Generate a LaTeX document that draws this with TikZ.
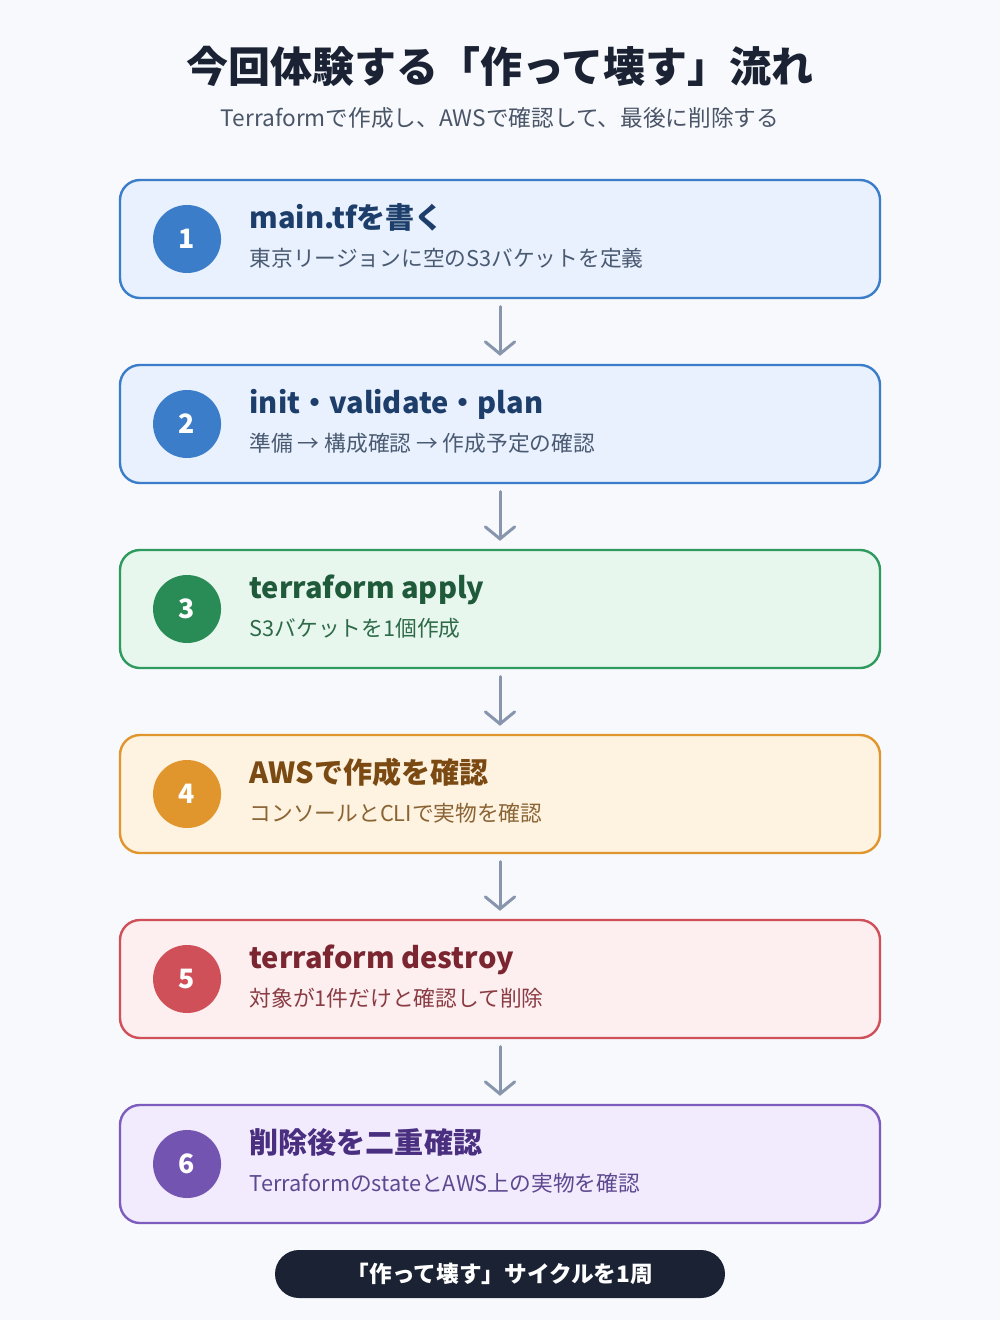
\documentclass[tikz,border=0pt]{standalone}
\usepackage{fontspec}
\setmainfont{Noto Sans CJK JP}
\usetikzlibrary{positioning}
\usetikzlibrary{calc}
\usetikzlibrary{arrows.meta}

\definecolor{bgcol}{HTML}{F7F9FC}
\definecolor{inkcol}{HTML}{1A2233}
\definecolor{greycol}{HTML}{4A5568}
\definecolor{arrowcol}{HTML}{8795AD}
\definecolor{bluedraw}{HTML}{3B7DC8}
\definecolor{bluefill}{HTML}{E8F1FD}
\definecolor{bluedark}{HTML}{1D3D6B}
\definecolor{bluetext}{HTML}{4A5A72}
\definecolor{greendraw}{HTML}{2E9A5E}
\definecolor{greenfill}{HTML}{E8F7EE}
\definecolor{greendark}{HTML}{1F5A3A}
\definecolor{greentext}{HTML}{2E6A48}
\definecolor{orangedraw}{HTML}{E0952D}
\definecolor{orangefill}{HTML}{FEF2E0}
\definecolor{orangedark}{HTML}{7A4A12}
\definecolor{orangetext}{HTML}{8A6434}
\definecolor{reddraw}{HTML}{D0505A}
\definecolor{redfill}{HTML}{FDEFEF}
\definecolor{reddark}{HTML}{7A2530}
\definecolor{redtext}{HTML}{8A3C44}
\definecolor{purpledraw}{HTML}{7D5CC0}
\definecolor{purplefill}{HTML}{F1EBFD}
\definecolor{purpledark}{HTML}{4A2F80}
\definecolor{purpletext}{HTML}{5E4890}

\begin{document}
\begin{tikzpicture}[stepbox/.style={rectangle, draw, line width=1.8pt, rounded corners=15pt, minimum width=570pt, minimum height=88.5pt},
  numdot/.style={circle, minimum size=51pt, inner sep=0pt, text=white, font=\fontsize{20}{20}\selectfont\bfseries},
  headtxt/.style={anchor=base west, inner sep=0pt, font=\fontsize{21.8}{21.8}\selectfont\bfseries},
  subtxt/.style={anchor=base west, inner sep=0pt, font=\fontsize{16.3}{16.3}\selectfont},
  flow/.style={arrowcol, line width=2.25pt, line cap=round, -{Straight Barb[length=9pt, width=22pt, line cap=round]}, shorten <=5.5pt, shorten >=6pt}]

  \useasboundingbox[fill=bgcol] (0,0) rectangle (750pt,-990pt);

  \node[font=\fontsize{31.5}{31.5}\selectfont\bfseries, text=inkcol] (title) at (375pt,-49.5pt) {今回体験する「作って壊す」流れ};
  \node[font=\fontsize{17}{17}\selectfont, text=greycol] (lead) at (375pt,-88.5pt) {Terraformで作成し、AWSで確認して、最後に削除する};

  \node[stepbox, draw=bluedraw, fill=bluefill] (b1) at (375pt,-179.25pt) {};
  \node[stepbox, draw=bluedraw, fill=bluefill] (b2) [below = 48.45pt of b1] {};
  \node[stepbox, draw=greendraw, fill=greenfill] (b3) [below = 48.45pt of b2] {};
  \node[stepbox, draw=orangedraw, fill=orangefill] (b4) [below = 48.45pt of b3] {};
  \node[stepbox, draw=reddraw, fill=redfill] (b5) [below = 48.45pt of b4] {};
  \node[stepbox, draw=purpledraw, fill=purplefill] (b6) [below = 48.45pt of b5] {};

  \node[numdot, fill=bluedraw] (n1) [right = 25.5pt of b1.west] {1};
  \node[numdot, fill=bluedraw] (n2) [right = 25.5pt of b2.west] {2};
  \node[numdot, fill=greendraw!90!black] (n3) [right = 25.5pt of b3.west] {3};
  \node[numdot, fill=orangedraw] (n4) [right = 25.5pt of b4.west] {4};
  \node[numdot, fill=reddraw] (n5) [right = 25.5pt of b5.west] {5};
  \node[numdot, fill=purpledraw!92!black] (n6) [right = 25.5pt of b6.west] {6};

  \node[headtxt, text=bluedark] (h1) at ($(n1.east)+(21pt,8.2pt)$) {main.tfを書く};
  \node[subtxt, text=bluetext] (s1) at ($(n1.east)+(21pt,-20.4pt)$) {東京リージョンに空のS3バケットを定義};
  \node[headtxt, text=bluedark] (h2) at ($(n2.east)+(21pt,8.2pt)$) {init・validate・plan};
  \node[subtxt, text=bluetext] (s2) at ($(n2.east)+(21pt,-20.4pt)$) {準備 → 構成確認 → 作成予定の確認};
  \node[headtxt, text=greendark] (h3) at ($(n3.east)+(21pt,8.2pt)$) {terraform apply};
  \node[subtxt, text=greentext] (s3) at ($(n3.east)+(21pt,-20.4pt)$) {S3バケットを1個作成};
  \node[headtxt, text=orangedark] (h4) at ($(n4.east)+(21pt,8.2pt)$) {AWSで作成を確認};
  \node[subtxt, text=orangetext] (s4) at ($(n4.east)+(21pt,-20.4pt)$) {コンソールとCLIで実物を確認};
  \node[headtxt, text=reddark] (h5) at ($(n5.east)+(21pt,8.2pt)$) {terraform destroy};
  \node[subtxt, text=redtext] (s5) at ($(n5.east)+(21pt,-20.4pt)$) {対象が1件だけと確認して削除};
  \node[headtxt, text=purpledark] (h6) at ($(n6.east)+(21pt,8.2pt)$) {削除後を二重確認};
  \node[subtxt, text=purpletext] (s6) at ($(n6.east)+(21pt,-20.4pt)$) {TerraformのstateとAWS上の実物を確認};

  \node[rectangle, rounded corners=18pt, fill=inkcol, text=white, minimum width=337.5pt, minimum height=36pt,
    font=\fontsize{17}{17}\selectfont\bfseries] (cycle) at (375pt,-955.5pt) {「作って壊す」サイクルを1周};

  \path
    (b1) edge[flow] (b2)
    (b2) edge[flow] (b3)
    (b3) edge[flow] (b4)
    (b4) edge[flow] (b5)
    (b5) edge[flow] (b6)
  ;
\end{tikzpicture}
\end{document}
